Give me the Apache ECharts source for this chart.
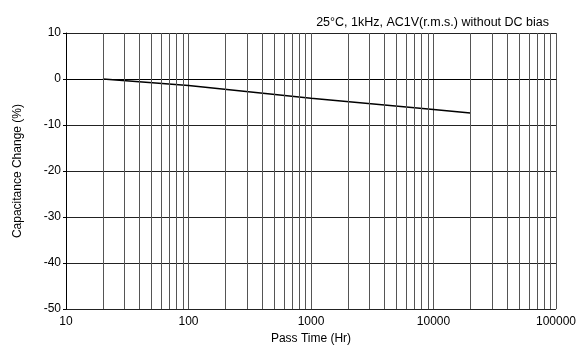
<!DOCTYPE html>
<html>
<head>
<meta charset="utf-8">
<script src="https://cdn.jsdelivr.net/npm/echarts@6/dist/echarts.min.js"></script>
<style>
  html, body { margin: 0; padding: 0; background: #fff; }
  #chart { width: 579px; height: 350px; }
</style>
</head>
<body>
<div id="chart"></div>
<script>
// values
var passTime = [20, 100, 1000, 10000, 20000];
var capChange = [0, -1.4, -4.2, -6.6, -7.4];
var minorX = [20, 30, 40, 50, 60, 70, 80, 90,
              200, 300, 400, 500, 600, 700, 800, 900,
              2000, 3000, 4000, 5000, 6000, 7000, 8000, 9000,
              20000, 30000, 40000, 50000, 60000, 70000, 80000, 90000];
var noteText = '25°C, 1kHz, AC1V(r.m.s.) without DC bias';

var font = 'Liberation Sans, Arial, sans-serif';
var myChart = echarts.init(document.getElementById('chart'));

var lineData = [];
for (var i = 0; i < passTime.length; i++) {
    lineData.push([passTime[i], capChange[i]]);
}
var minorLines = [];
for (var j = 0; j < minorX.length; j++) {
    minorLines.push({ xAxis: minorX[j] });
}

myChart.setOption({
    animation: false,
    title: {
        text: noteText,
        right: 25,
        top: 11,
        textStyle: { fontFamily: font, fontSize: 12.5, fontWeight: 'normal', color: '#000' }
    },
    grid: { left: 66, right: 23, top: 33, bottom: 35 },
    xAxis: {
        type: 'log',
        logBase: 10,
        min: 10,
        max: 100000,
        name: 'Pass Time (Hr)',
        nameLocation: 'middle',
        nameGap: 20,
        nameTextStyle: { fontFamily: font, fontSize: 12, color: '#000' },
        axisLine: { lineStyle: { color: '#000', width: 1 } },
        axisTick: { show: false },
        axisLabel: {
            fontFamily: font, fontSize: 12, color: '#000', margin: 7,
            formatter: function (v) { return String(Math.round(v)); }
        },
        splitLine: { show: true, lineStyle: { color: '#555', width: 1 } }
    },
    yAxis: {
        type: 'value',
        min: -50,
        max: 10,
        interval: 10,
        name: 'Capacitance Change (%)',
        nameLocation: 'middle',
        nameGap: 42,
        nameTextStyle: { fontFamily: font, fontSize: 12, color: '#000' },
        axisLine: { show: true, lineStyle: { color: '#000', width: 1 } },
        axisTick: { show: true, length: 3, lineStyle: { color: '#000' } },
        axisLabel: { fontFamily: font, fontSize: 12, color: '#000', margin: 5 },
        splitLine: { show: true, lineStyle: { color: '#222', width: 1 } }
    },
    series: [{
        type: 'line',
        data: lineData,
        symbol: 'none',
        lineStyle: { color: '#000', width: 1.5 },
        markLine: {
            silent: true,
            symbol: ['none', 'none'],
            label: { show: false },
            lineStyle: { color: '#555', width: 1, type: 'solid' },
            data: minorLines
        }
    }]
});
</script>
</body>
</html>
